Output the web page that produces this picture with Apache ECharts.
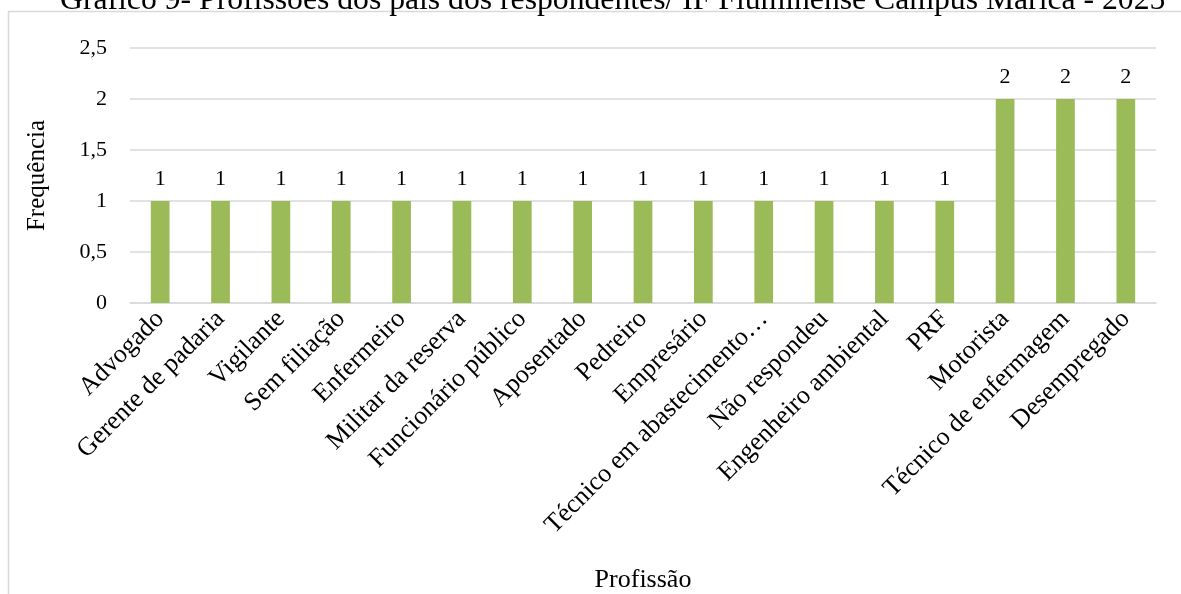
<!DOCTYPE html>
<html>
<head>
<meta charset="utf-8">
<script src="https://cdn.jsdelivr.net/npm/echarts@6/dist/echarts.min.js"></script>
<style>
html,body{margin:0;padding:0;background:#fff;}
#chart{width:1181px;height:594px;}
</style>
</head>
<body>
<div id="chart"></div>
<script>
const titleText = 'Gráfico 9- Profissões dos pais dos respondentes/ IF Fluminense Campus Maricá - 2025';
const categories = ['Advogado','Gerente de padaria','Vigilante','Sem filiação','Enfermeiro','Militar da reserva','Funcionário público','Aposentado','Pedreiro','Empresário','Técnico em abastecimento…','Não respondeu','Engenheiro ambiental','PRF','Motorista','Técnico de enfermagem','Desempregado'];
const values = [1,1,1,1,1,1,1,1,1,1,1,1,1,1,2,2,2];
const yTicks = [0,0.5,1,1.5,2,2.5];

const font = '"Liberation Serif","Times New Roman",serif';
const chart = echarts.init(document.getElementById('chart'));
chart.setOption({
  animation:false,
  title:{text:titleText,left:55,top:-20,textStyle:{fontFamily:font,fontWeight:'normal',fontSize:31.7,color:'#000'}},
  graphic:[{type:'rect',shape:{x:8.5,y:11.5,width:1300,height:700},style:{fill:'none',stroke:'#d9d9d9',lineWidth:1.5},z:-1}],
  grid:{left:130,right:25,top:48,bottom:288},
  xAxis:{type:'category',data:categories,
    name:'Profissão',nameLocation:'middle',nameGap:264,
    nameTextStyle:{fontFamily:font,fontSize:26,color:'#000'},
    axisLine:{lineStyle:{color:'#d9d9d9',width:1.5}},axisTick:{show:false},
    axisLabel:{rotate:45,interval:0,fontFamily:font,fontSize:26,color:'#000',margin:12}},
  yAxis:{type:'value',min:0,max:2.5,interval:0.5,
    name:'Frequência',nameLocation:'middle',nameGap:80,
    nameTextStyle:{fontFamily:font,fontSize:25,color:'#000'},
    axisLine:{show:false},axisTick:{show:false},
    splitLine:{lineStyle:{color:'#d9d9d9',width:1.5}},
    axisLabel:{fontFamily:font,fontSize:22,color:'#000',margin:23,
      formatter:v=>String(v).replace('.',',')}},
  series:[{type:'bar',data:values,barWidth:'31%',
    itemStyle:{color:'#9bbb59'},
    label:{show:true,position:'top',distance:11,fontFamily:font,fontSize:22,color:'#000'}}]
});
</script>
</body>
</html>
